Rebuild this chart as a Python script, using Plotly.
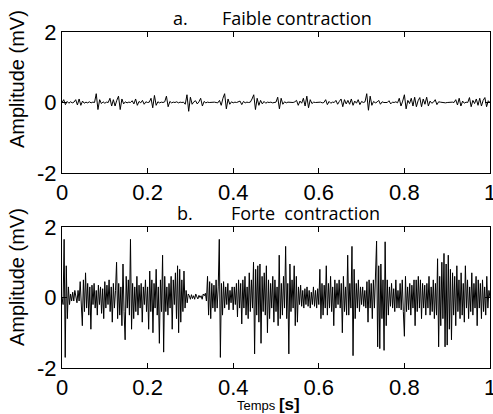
import numpy as np
import plotly.graph_objects as go

# Panel a: weak contraction (mV), 250 samples + end point over 1 s
faible = [
    0.0, 0.08, -0.06, 0.03, -0.02, 0.02, -0.01, 0.01, 0.08, -0.07,
    0.1, -0.08, 0.04, -0.02, 0.01, -0.01, 0.02, -0.01, 0.01, 0.0,
    0.25, -0.2, 0.08, -0.03, 0.02, -0.02, 0.01, 0.0, 0.12, -0.1,
    0.08, -0.1, 0.06, 0.18, -0.2, 0.1, -0.04, 0.02, -0.01, 0.01,
    0.0, 0.05, -0.04, 0.1, -0.08, 0.03, -0.01, 0.06, -0.05, 0.02,
    0.0, 0.01, 0.12, -0.15, 0.2, -0.08, 0.02, -0.01, 0.01, 0.0,
    0.02, 0.18, -0.12, 0.03, -0.01, 0.01, 0.0, 0.02, -0.01, 0.01,
    0.0, 0.01, -0.05, 0.22, -0.25, 0.15, -0.05, 0.02, 0.05, -0.04,
    0.02, 0.12, -0.1, 0.03, -0.01, 0.01, 0.0, 0.01, 0.0, 0.01,
    0.0, -0.01, 0.06, -0.08, 0.12, 0.25, -0.18, 0.1, -0.05, 0.02,
    -0.01, 0.01, 0.0, 0.01, 0.04, -0.06, 0.03, -0.01, 0.01, 0.0,
    0.01, 0.1, 0.22, -0.2, 0.12, -0.08, 0.06, -0.04, 0.03, -0.02,
    0.01, 0.0, 0.01, -0.01, 0.0, 0.01, 0.15, -0.18, 0.12, -0.05,
    0.02, -0.01, 0.01, 0.0, 0.01, 0.0, 0.02, 0.06, -0.08, 0.04,
    -0.02, 0.12, -0.1, 0.18, -0.15, 0.08, -0.03, 0.01, 0.0, 0.01,
    0.0, 0.01, -0.01, 0.0, 0.08, -0.06, 0.03, -0.02, 0.01, 0.0,
    0.06, -0.05, 0.03, 0.1, -0.12, 0.08, -0.04, 0.06, -0.05, 0.1,
    -0.08, 0.04, -0.02, 0.08, -0.06, 0.03, 0.0, 0.02, 0.25, -0.22,
    0.18, -0.08, 0.03, -0.01, 0.01, 0.06, -0.05, 0.02, 0.0, 0.01,
    0.0, 0.05, -0.04, 0.01, 0.0, 0.02, -0.01, 0.12, -0.1, 0.04,
    0.22, -0.18, 0.06, -0.03, 0.12, -0.1, 0.15, -0.12, 0.05, 0.14,
    -0.12, 0.1, -0.05, 0.15, -0.1, 0.04, -0.02, 0.01, 0.08, -0.06,
    0.02, 0.01, 0.0, 0.01, -0.01, 0.0, 0.01, 0.0, 0.01, 0.0,
    0.08, -0.07, 0.12, -0.1, 0.04, -0.02, 0.01, 0.0, 0.14, -0.12,
    0.06, -0.03, 0.1, -0.08, 0.12, -0.1, 0.06, 0.14, -0.12, 0.05,
    0.0,
]

# Panel b: strong contraction (mV), 400 samples + end point over 1 s
forte = [
    0.0, -0.2, 1.65, -1.7, 0.9, -0.6, 0.3, -0.2, 0.1, -0.1,
    0.15, -0.1, 0.2, 0.05, -0.15, 0.2, -0.1, 0.45, -0.3, -0.8,
    0.5, -0.4, 0.7, -0.3, 0.4, -0.5, 0.3, -0.9, 0.35, -0.2,
    0.4, -0.3, 0.2, -0.5, 0.35, -0.2, 0.3, -0.45, 0.25, -0.6,
    0.45, -0.3, 0.35, -0.2, 0.5, -0.4, 0.3, -0.7, 0.4, -0.3,
    0.2, 1.0, -0.6, 0.4, -0.5, 0.3, -0.8, 0.95, -0.4, -1.2,
    0.6, -0.3, 0.5, -0.5, 1.65, -0.9, 0.4, -0.6, 0.3, -0.4,
    0.6, -0.5, 0.35, -0.3, 0.4, -0.7, 0.3, -0.2, 0.5, -0.4,
    0.3, -0.9, 0.75, -0.4, 0.5, -1.0, 0.4, -0.3, 0.8, -0.5,
    0.3, -1.3, 0.5, -0.4, 1.2, -1.55, 0.6, -0.4, 0.3, -0.5,
    0.4, -0.3, 0.6, -0.9, 0.5, -0.2, 0.7, -0.6, 0.9, -1.0,
    0.8, -0.7, 0.5, -0.4, 0.75, -0.3, 0.2, -0.15, 0.1, 0.05,
    -0.05, 0.08, -0.03, 0.05, -0.05, 0.1, 0.02, -0.04, 0.06, 0.0,
    0.05, -0.05, 0.1, 0.05, 0.12, -0.1, 0.6, -0.5, 0.45, -0.6,
    0.4, -0.3, 0.35, -0.4, 0.5, -0.3, 0.3, 1.65, -1.7, 0.4,
    -0.5, 0.45, -0.3, 0.3, -0.2, 0.4, -0.35, 0.2, -0.15, 0.3,
    -0.35, 0.3, -0.2, 0.4, -0.55, 0.5, -0.3, 0.4, -0.75, 0.5,
    -0.3, 0.6, -0.5, 0.3, -0.6, 0.7, -0.4, 0.5, -0.3, 1.0,
    -1.6, 0.8, -0.5, 0.9, -0.7, 0.95, -1.3, 0.6, -0.4, 0.7,
    -0.5, 0.9, -1.0, 0.5, -0.6, 0.4, -0.3, 0.6, -0.7, 0.5,
    -0.4, 0.3, -0.8, 1.2, -0.6, 0.4, -0.5, 0.6, -0.3, 1.45,
    -0.6, 0.4, -1.6, 0.95, -0.4, 0.5, -0.3, 0.9, -0.8, 0.6,
    -0.7, 0.3, -0.2, 0.35, -0.25, 0.2, -0.3, 0.25, -0.2, 0.3,
    -0.25, 0.2, -0.3, 0.15, -0.2, 0.3, -0.25, 0.2, -0.3, 0.25,
    -0.2, 0.8, -0.6, 0.4, -0.5, 0.35, -0.3, 0.9, -0.5, 0.4,
    -0.3, 0.6, -0.4, 0.3, -0.8, 0.5, -0.3, 0.4, -0.2, 0.5,
    -0.3, 0.4, -1.0, 0.6, -0.4, 0.3, -0.5, 1.2, -0.5, 0.4,
    -0.3, 1.45, -1.65, 0.8, -0.6, 0.4, -0.3, 0.5, -0.4, 0.3,
    -0.2, 0.3, -0.25, 0.2, -0.3, 0.45, -0.7, 0.5, -0.3, 0.4,
    -0.6, 0.5, -0.3, 0.5, 1.6, -1.4, 0.9, -1.45, 0.95, -0.6,
    0.5, -1.5, 1.58, -0.8, 0.5, -0.5, 0.3, -0.25, 0.4, -0.3,
    0.25, -0.4, 0.5, -0.3, 0.2, -0.3, 0.4, -0.35, 0.5, -0.4,
    -1.1, 0.6, -0.4, 0.3, -0.35, 0.4, -0.5, 0.35, -0.3, 0.5,
    -0.8, 0.5, -0.4, 0.6, -0.3, 0.5, -0.6, 0.4, -0.3, 0.35,
    -0.5, 0.4, -0.3, 0.6, -0.5, 0.3, -0.4, 0.5, -0.6, 0.4,
    -0.5, 1.1, -1.4, 0.6, -0.8, 1.0, -0.6, 1.25, -1.4, 0.95,
    -1.35, 1.2, -0.9, 0.8, -1.2, 0.7, -0.5, 0.6, -0.8, 0.9,
    -0.4, 0.5, -0.6, 0.7, -0.5, 0.4, -0.7, 0.9, -0.3, 0.5,
    -0.6, 0.3, -0.4, 0.7, -0.5, 0.4, -0.3, 0.6, -0.8, 0.5,
    -0.3, 0.4, -0.6, 0.5, -0.4, 0.3, -0.5, 0.6, -0.3, 0.2,
    0.0,
]

t_a = np.linspace(0, 1, len(faible))
t_b = np.linspace(0, 1, len(forte))

x_ticks = [0, 0.2, 0.4, 0.6, 0.8, 1]
x_labels = ["0", "0.2", "0.4", "0.6", "0.8", "1"]
y_ticks = [-2, 0, 2]
y_labels = ["-2", "0", "2"]

W, H = 493, 414
def px(x):
    return x / W
def py(y):
    return 1 - y / H

fig = go.Figure()
fig.add_trace(go.Scatter(x=t_a, y=faible, mode="lines",
                         line=dict(color="black", width=1),
                         xaxis="x", yaxis="y", showlegend=False))
fig.add_trace(go.Scatter(x=t_b, y=forte, mode="lines",
                         line=dict(color="black", width=1),
                         xaxis="x2", yaxis="y2", showlegend=False))

tickfont = dict(family="Liberation Sans, Arial", size=22, color="black")
axcommon = dict(showline=True, linecolor="black", linewidth=1, mirror="ticks",
                ticks="inside", ticklen=5, tickcolor="black", showgrid=False,
                zeroline=False, tickfont=tickfont, automargin=False,
                ticklabeloverflow="allow")

xd = [px(62), px(490)]
fig.update_layout(
    width=W, height=H,
    margin=dict(l=0, r=0, t=0, b=0, pad=0),
    paper_bgcolor="white", plot_bgcolor="white",
    xaxis=dict(domain=xd, range=[0, 1], tickvals=x_ticks, ticktext=x_labels,
               anchor="y", **axcommon),
    yaxis=dict(domain=[py(173), py(32)], range=[-2, 2], tickvals=y_ticks,
               ticktext=y_labels, anchor="x", **axcommon),
    xaxis2=dict(domain=xd, range=[0, 1], tickvals=x_ticks, ticktext=x_labels,
                anchor="y2", **axcommon),
    yaxis2=dict(domain=[py(368), py(227)], range=[-2, 2], tickvals=y_ticks,
                ticktext=y_labels, anchor="x2", **axcommon),
)

titlefont = dict(family="Open Sans, Noto Sans", size=18, color="black")
ann = [
    dict(text="a.", x=px(180), y=py(18), font=titlefont),
    dict(text="Faible contraction", x=px(297), y=py(18), font=titlefont),
    dict(text="b.", x=px(185), y=py(213), font=titlefont),
    dict(text="Forte&nbsp;&nbsp;contraction", x=px(305), y=py(213), font=titlefont),
    dict(text="Amplitude (mV)", x=px(17), y=py(79), textangle=-90,
         font=dict(family="Liberation Sans, Arial", size=20, color="black")),
    dict(text="Amplitude (mV)", x=px(17), y=py(277), textangle=-90,
         font=dict(family="Liberation Sans, Arial", size=20, color="black")),
    dict(text="Temps <b><span style='font-size:17px'>[s]</span></b>", x=px(268), y=py(404),
         font=dict(family="Liberation Sans, Arial", size=13, color="black")),
]
for a in ann:
    a.update(xref="paper", yref="paper", showarrow=False,
             xanchor="center", yanchor="middle")
    fig.add_annotation(**a)

fig.write_html("out.html", config={"displayModeBar": False},
               post_script="document.body.style.margin='0';document.body.style.overflow='hidden';")
